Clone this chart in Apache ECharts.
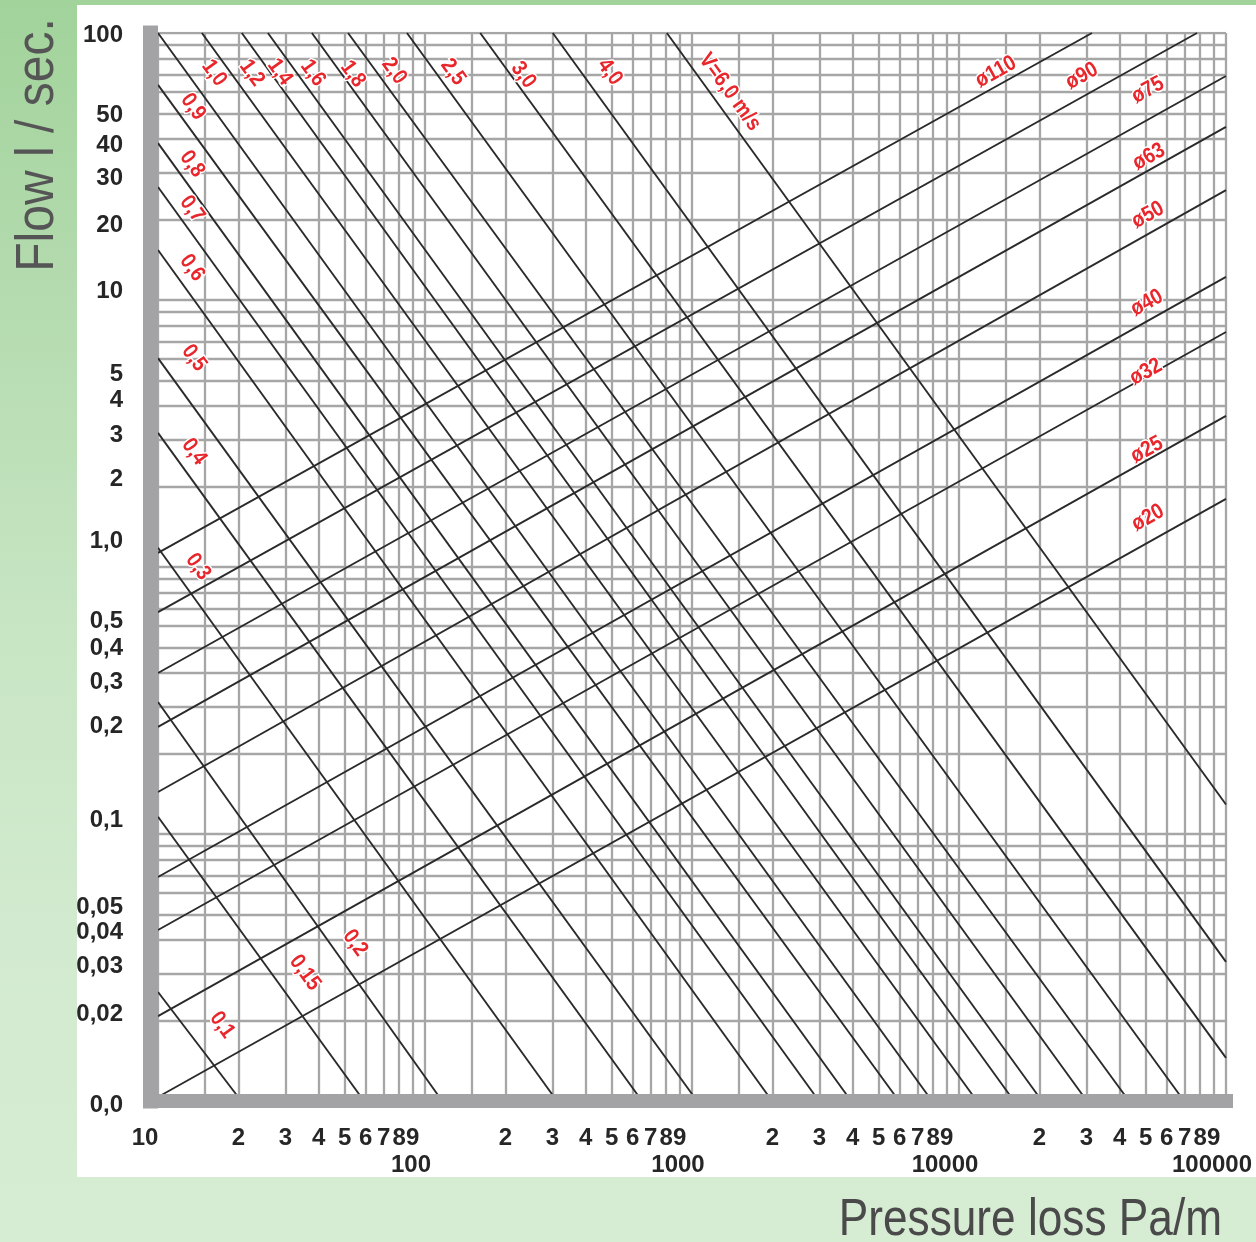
<!DOCTYPE html>
<html>
<head>
<meta charset="utf-8">
<script src="https://cdn.jsdelivr.net/npm/echarts@6/dist/echarts.min.js"></script>
<style>
html,body{margin:0;padding:0;}
#wrap{position:relative;width:1256px;height:1242px;overflow:hidden;
  background:linear-gradient(180deg,#a2d39b 0%,#b5dbb0 25%,#c7e5c3 50%,#d2eacf 75%,#d6ecd3 100%);}
#panel{position:absolute;left:77px;top:5px;width:1179px;height:1172px;background:#ffffff;}
#chart{position:absolute;left:0;top:0;width:1256px;height:1242px;}
</style>
</head>
<body>
<div id="wrap"><div id="panel"></div><div id="chart"></div></div>
<script>
// ---------- data ----------
const xGridValues = [10,15,20,30,40,50,60,70,80,90,
  100,150,200,300,400,500,600,700,800,900,
  1000,1500,2000,3000,4000,5000,6000,7000,8000,9000,
  10000,15000,20000,30000,40000,50000,60000,70000,80000,90000,100000];
const yGridValues = [0.01,0.02,0.03,0.04,0.05,0.06,0.07,0.08,0.09,
  0.1,0.2,0.3,0.4,0.5,0.6,0.7,0.8,0.9,
  1,2,3,4,5,6,7,8,9,
  10,20,30,40,50,60,70,80,90,100];

const xLabelValues = [10,20,30,40,50,60,70,80,90,
  100,200,300,400,500,600,700,800,900,
  1000,2000,3000,4000,5000,6000,7000,8000,9000,
  10000,20000,30000,40000,50000,60000,70000,80000,90000,100000];
const xLabelTexts = ['10','2','3','4','5','6','7','8','9',
  '100','2','3','4','5','6','7','8','9',
  '1000','2','3','4','5','6','7','8','9',
  '10000','2','3','4','5','6','7','8','9','100000'];

const yLabelValues = [100,50,40,30,20,10,5,4,3,2,1,0.5,0.4,0.3,0.2,0.1,0.05,0.04,0.03,0.02,0.01];
const yLabelTexts = ['100','50','40','30','20','10','5','4','3','2','1,0','0,5','0,4','0,3','0,2','0,1','0,05','0,04','0,03','0,02','0,0'];

// velocity lines (m/s): start and end points [pressure loss Pa/m, flow l/s]
const velocityLabels = ['0,1','0,15','0,2','0,3','0,4','0,5','0,6','0,7','0,8','0,9',
  '1,0','1,2','1,4','1,6','1,8','2,0','2,5','3,0','4,0','V=6,0 m/s'];
const velocityStart = [[10,0.0256],[10,0.116],[10,0.312],[10,1.18],[10,3.18],[10,6.06],[10,15.4],[10,26.5],[10,38.7],[10,63.9],
  [10,100],[14.6,100],[20.6,100],[25.8,100],[37.7,100],[51.5,100],[85.6,100],[161,100],[301,100],[805,100]];
const velocityEnd = [[20.5,0.01],[59.1,0.01],[116,0.01],[312,0.01],[650,0.01],[1045,0.01],[1995,0.01],[2990,0.01],[3945,0.01],[5960,0.01],
  [7925,0.01],[11670,0.01],[16070,0.01],[20460,0.01],[30140,0.01],[43330,0.01],[69660,0.01],[100000,0.0145],[100000,0.0332],[100000,0.129]];

// pipe diameter lines
const diameterLabels = ['ø20','ø25','ø32','ø40','ø50','ø63','ø75','ø90','ø110'];
const diameterStart = [[10,0.01035],[10,0.0208],[10,0.0437],[10,0.069],[10,0.1436],[10,0.252],[10,0.401],[10,0.678],[10,1.13]];
const diameterEnd = [[100000,1.80],[100000,3.68],[100000,7.59],[100000,12.2],[100000,25.8],[100000,44.5],[100000,69.0],[77870,100],[31480,100]];

// ---------- styles (label placement in px relative to line anchor) ----------
const velocityLabelOffset = [[64,33],[147,156],[197,241],[40,19],[36,19],[36,0],[34,18],[34,22],[34,21],[35,22],
  [56,40],[50,40],[38,39],[45,40],[41,41],[46,38],[46,39],[43,42],[57,39],[63,59]];
const diameterLabelOffset = [[-78,19],[-79,34],[-80,40],[-79,26],[-78,25],[-77,30],[-78,14],[-115,43],[-96,39]];
const yLabelShift = [2,2,6,6,6,-9,-6,-6,-4,-7,-26,-26,-25,-24,-27,-14,-7,-8,-7,-6,4];

const FONT = '"Liberation Sans",Arial,sans-serif';
const TICK_COLOR = '#262626';
const AXIS_GRAY = '#a3a3a6';

function idxOf(arr, v) {
  let best = 0, bd = Infinity;
  arr.forEach((a, i) => { const d = Math.abs(Math.log10(a) - Math.log10(v)); if (d < bd) { bd = d; best = i; } });
  return best;
}

const tickFont = {fontFamily: FONT, fontSize: 24, fontWeight: 'bold', color: TICK_COLOR};
const yRich = {};
yLabelShift.forEach((s, i) => {
  yRich['s' + i] = Object.assign({}, tickFont, {padding: s < 0 ? [0, 0, -2 * s, 0] : [2 * s, 0, 0, 0]});
});

const gridLines = [];
xGridValues.forEach(x => gridLines.push({coords: [[x, 0.01], [x, 100]]}));
yGridValues.forEach(y => gridLines.push({coords: [[10, y], [100000, y]]}));

const velocityLines = velocityStart.map((s, i) => ({coords: [s, velocityEnd[i]]}));
const diameterLines = diameterStart.map((s, i) => ({coords: [s, diameterEnd[i]]}));

const option = {
  animation: false,
  grid: {left: 158, right: 30, top: 33, bottom: 141, containLabel: false},
  xAxis: {
    type: 'log', logBase: 10, min: 10, max: 100000, z: 10,
    axisLine: {show: true, onZero: false, lineStyle: {color: AXIS_GRAY, width: 14, cap: 'square'}},
    axisTick: {show: false},
    splitLine: {show: false},
    axisLabel: {
      customValues: xLabelValues, margin: 25, showMinLabel: true, showMaxLabel: true,
      fontFamily: FONT, fontSize: 24, fontWeight: 'bold', color: TICK_COLOR,
      formatter: v => {
        const i = idxOf(xLabelValues, v);
        const t = xLabelTexts[i];
        if (i === 0) return '{t|' + t + '}';
        if (t.length > 2) return '{d|' + t + '}';
        return '{n|' + t + '}';
      },
      rich: {
        n: Object.assign({}, tickFont),
        t: Object.assign({}, tickFont, {padding: [0, 26, 0, 0]}),
        d: Object.assign({}, tickFont, {padding: [27, 28, 0, 0]})
      }
    }
  },
  yAxis: {
    type: 'log', logBase: 10, min: 0.01, max: 100, offset: 8, z: 10,
    axisLine: {show: true, onZero: false, lineStyle: {color: AXIS_GRAY, width: 15, cap: 'square'}},
    axisTick: {show: false},
    splitLine: {show: false},
    axisLabel: {
      customValues: yLabelValues, margin: 27, showMinLabel: true, showMaxLabel: true,
      fontFamily: FONT, fontSize: 24, fontWeight: 'bold', color: TICK_COLOR,
      formatter: v => { const i = idxOf(yLabelValues, v); return '{s' + i + '|' + yLabelTexts[i] + '}'; },
      rich: yRich
    }
  },
  series: [
    {type: 'lines', coordinateSystem: 'cartesian2d', silent: true, z: 1,
     lineStyle: {color: '#a6a6a6', width: 2.3, opacity: 1, curveness: 0}, data: gridLines},
    {type: 'lines', coordinateSystem: 'cartesian2d', silent: true, z: 3,
     lineStyle: {color: '#2a2a2a', width: 1.9, opacity: 1, curveness: 0}, data: velocityLines},
    {type: 'lines', coordinateSystem: 'cartesian2d', silent: true, z: 3,
     lineStyle: {color: '#2a2a2a', width: 1.9, opacity: 1, curveness: 0}, data: diameterLines}
  ]
};

const chart = echarts.init(document.getElementById('chart'), null, {renderer: 'canvas'});
chart.setOption(option);

const toPx = p => chart.convertToPixel({gridIndex: 0}, p);
const RED = '#e8262b';
const LABEL_FONT = 'bold 22px ' + FONT;
const gfx = [];
velocityLabels.forEach((t, i) => {
  const p = toPx(velocityStart[i]);
  gfx.push({type: 'text', x: p[0] + velocityLabelOffset[i][0], y: p[1] + velocityLabelOffset[i][1],
    rotation: -54 * Math.PI / 180, scaleX: 0.88, z: 20,
    style: {text: t, fill: RED, font: LABEL_FONT, align: 'center', verticalAlign: 'middle', stroke: '#ffffff', lineWidth: 3}});
});
diameterLabels.forEach((t, i) => {
  const p = toPx(diameterEnd[i]);
  gfx.push({type: 'text', x: p[0] + diameterLabelOffset[i][0], y: p[1] + diameterLabelOffset[i][1],
    rotation: 29 * Math.PI / 180, scaleX: 0.88, z: 20,
    style: {text: t, fill: RED, font: LABEL_FONT, align: 'center', verticalAlign: 'middle', stroke: '#ffffff', lineWidth: 3}});
});
gfx.push({type: 'text', x: 38, y: 145, rotation: Math.PI / 2, scaleX: 0.89, z: 20,
  style: {text: 'Flow l / sec.', fill: '#555555', font: '54px ' + FONT, align: 'center', verticalAlign: 'middle'}});
gfx.push({type: 'text', x: 1222, y: 1221, scaleX: 0.85, z: 20,
  style: {text: 'Pressure loss Pa/m', fill: '#4a4a4a', font: '52px ' + FONT, align: 'right', verticalAlign: 'middle'}});
chart.setOption({graphic: {elements: gfx}});
</script>
</body>
</html>
